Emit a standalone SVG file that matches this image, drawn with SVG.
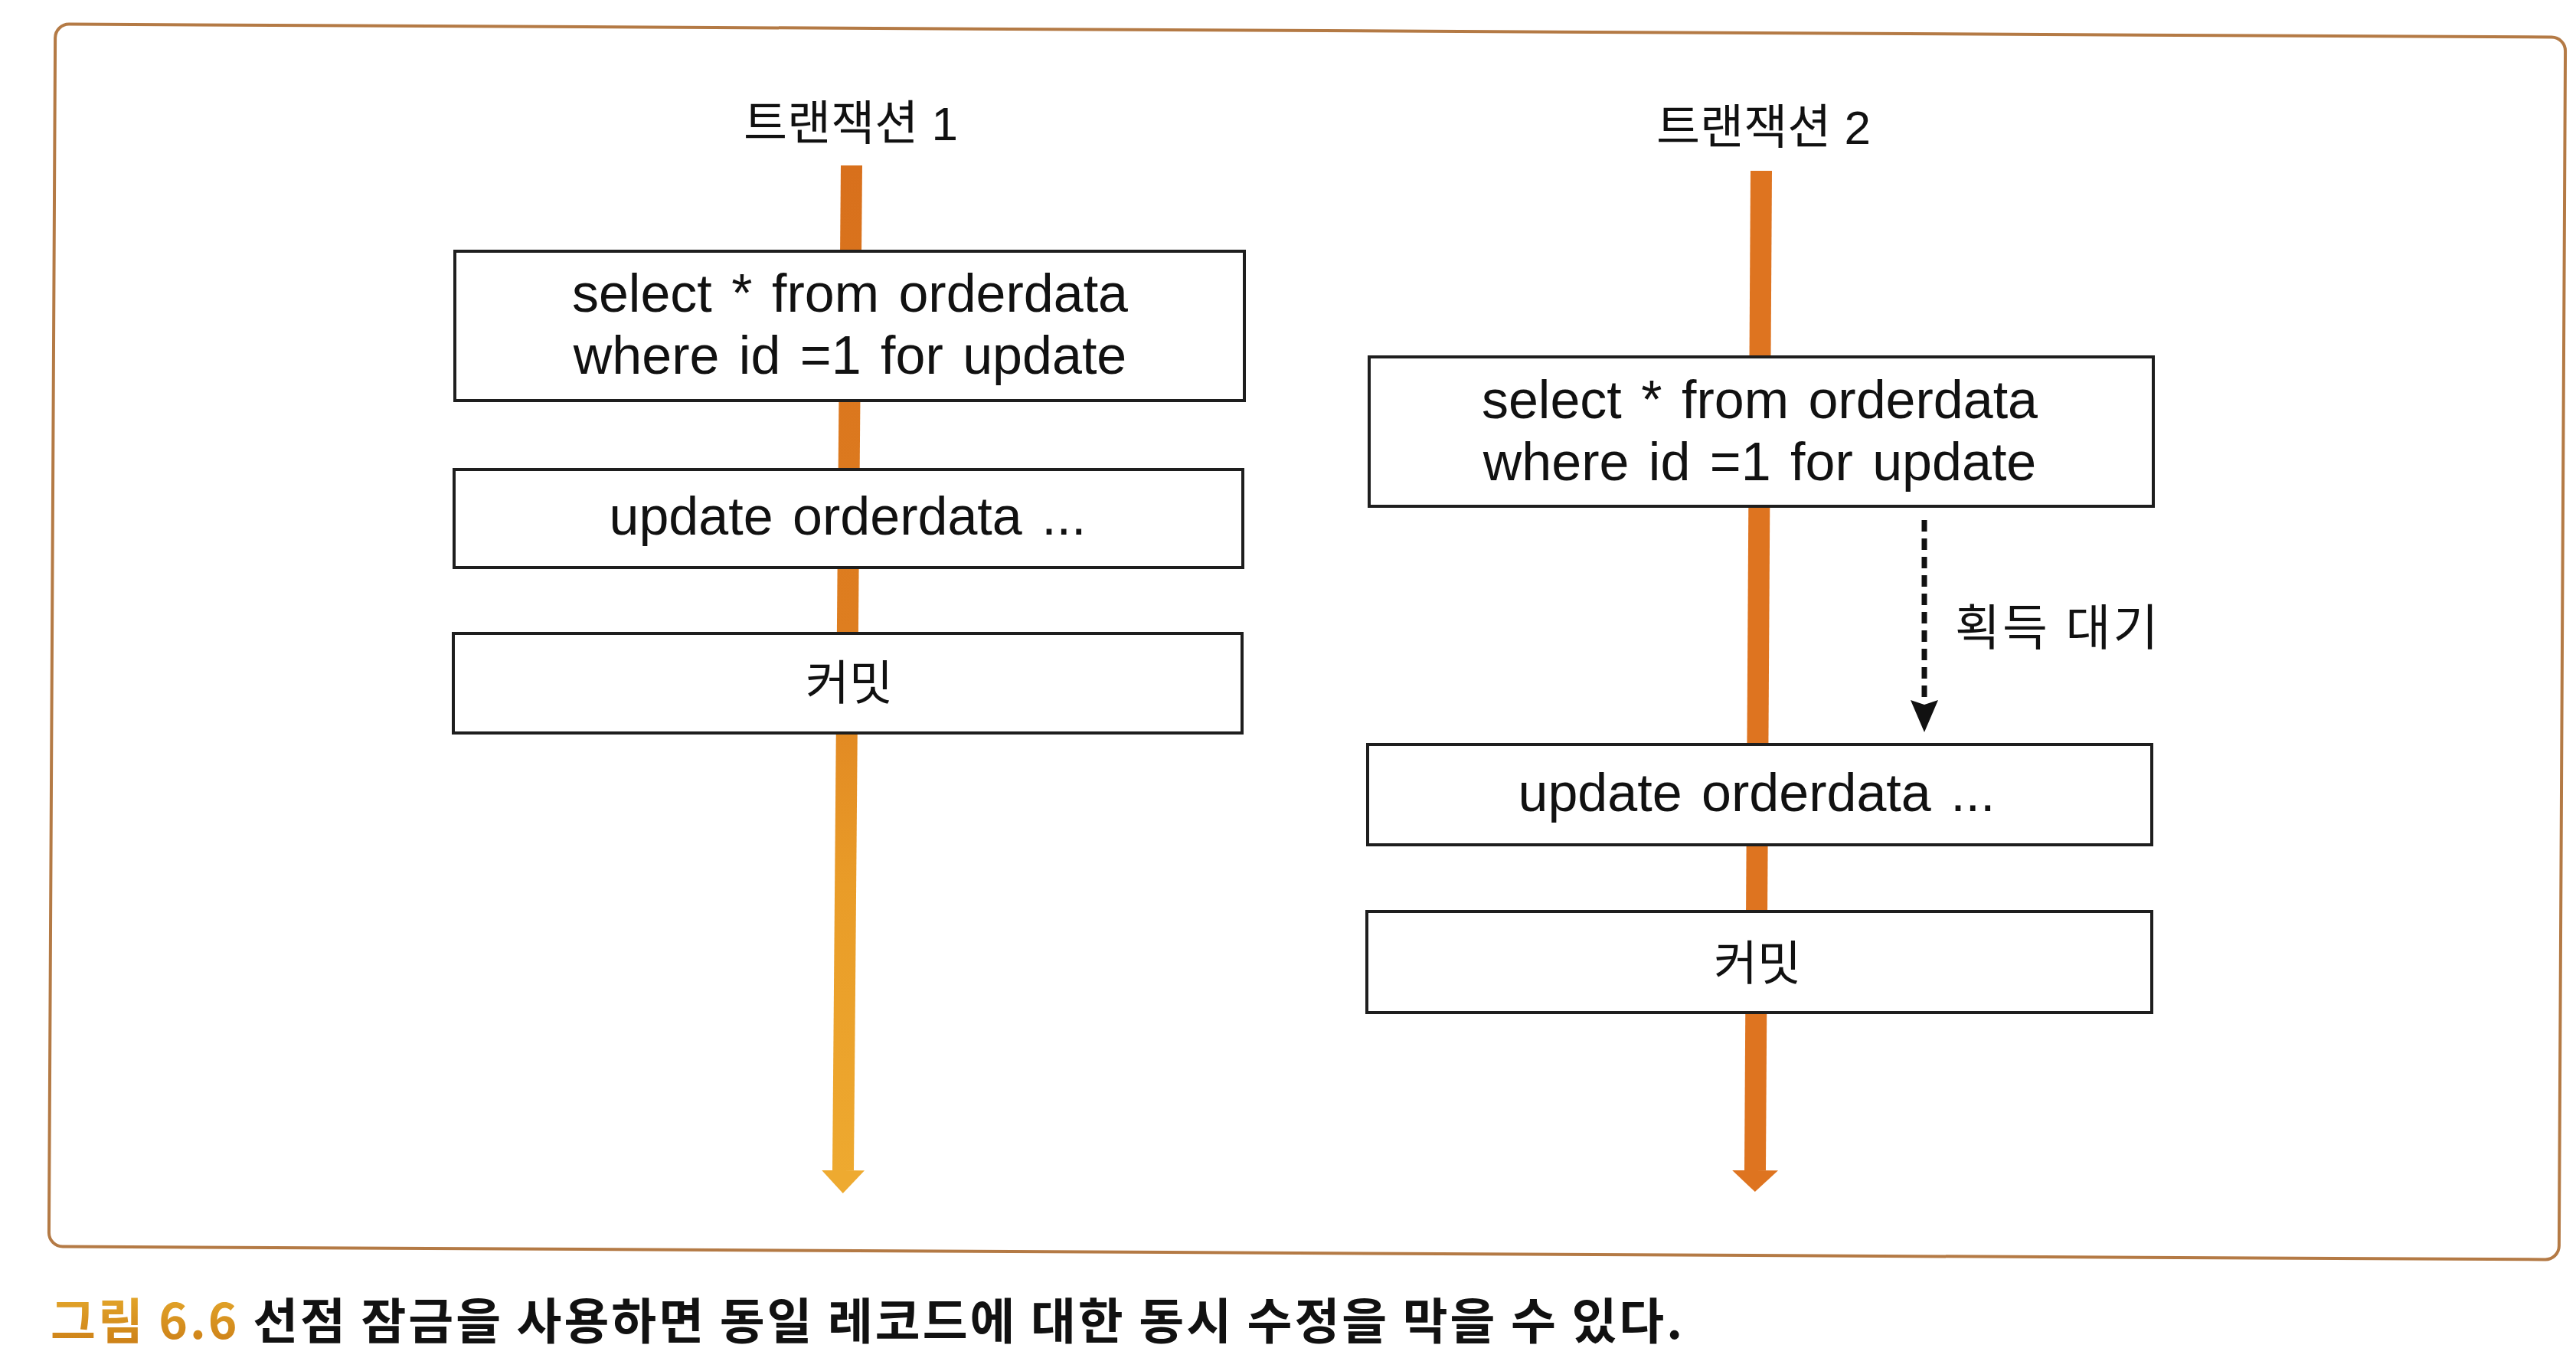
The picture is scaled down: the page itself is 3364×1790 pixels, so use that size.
<svg xmlns="http://www.w3.org/2000/svg" width="3364" height="1790" viewBox="0 0 3364 1790">
  <style>
    .box { fill: #ffffff; stroke: #1e1e1e; stroke-width: 4; }
    .code { font-family: "Liberation Sans", Arial, "Noto Sans CJK KR", sans-serif; font-size: 70px; fill: #111111; text-anchor: middle; word-spacing: 6px; }
    .kr { font-family: "Liberation Sans", "Noto Sans CJK KR", sans-serif; font-size: 62px; fill: #111111; }
    .mid { text-anchor: middle; }
    .life { fill: none; stroke-width: 28; }
    .cap { font-family: "Noto Sans CJK KR", "Liberation Sans", sans-serif; font-size: 64px; font-weight: bold; fill: #111111; letter-spacing: 3px; }
  </style>
  <defs>
    <linearGradient id="g1" gradientUnits="userSpaceOnUse" x1="0" y1="216" x2="0" y2="1557">
      <stop offset="0" stop-color="#d8701c"/>
      <stop offset="0.45" stop-color="#de7e20"/>
      <stop offset="0.7" stop-color="#e99c28"/>
      <stop offset="1" stop-color="#eeaa30"/>
    </linearGradient>
    <linearGradient id="gcap" x1="0" y1="0" x2="0" y2="1">
      <stop offset="0" stop-color="#e9b030"/>
      <stop offset="1" stop-color="#c97a14"/>
    </linearGradient>
    <marker id="ah1" markerUnits="userSpaceOnUse" viewBox="0 -28 30 56" refX="0" refY="0" markerWidth="30" markerHeight="56" orient="auto">
      <path d="M0,-28 L30,0 L0,28 Z" fill="#eeaa30"/>
    </marker>
    <marker id="ah2" markerUnits="userSpaceOnUse" viewBox="0 -30 30 60" refX="0" refY="0" markerWidth="30" markerHeight="60" orient="auto">
      <path d="M0,-30 L28,0 L0,30 Z" fill="#de7420"/>
    </marker>
    <marker id="ahd" markerUnits="userSpaceOnUse" viewBox="0 -18 42 36" refX="0" refY="0" markerWidth="42" markerHeight="36" orient="auto">
      <path d="M0,-18 L42,0 L0,18 L6,0 Z" fill="#111111"/>
    </marker>
  </defs>

  <rect x="0" y="0" width="3364" height="1790" fill="#ffffff"/>

  <g id="frame">
    <rect x="68" y="40" width="3278" height="1596" rx="18" ry="18" fill="none" stroke="#b47a45" stroke-width="4" transform="rotate(0.3 1707 838)"/>
  </g>

  <g id="title1">
    <text class="kr mid" x="1111" y="183">트랜잭션 1</text>
  </g>
  <g id="title2">
    <text class="kr mid" x="2303" y="188">트랜잭션 2</text>
  </g>

  <g id="connectors">
    <path class="life" d="M1112,216 L1101,1528" stroke="url(#g1)" marker-end="url(#ah1)"/>
    <path class="life" d="M2300,223 L2292,1528" stroke="#de7420" marker-end="url(#ah2)"/>
    <path d="M2513,679 L2513,914" fill="none" stroke="#111111" stroke-width="7" stroke-dasharray="15 9" marker-end="url(#ahd)"/>
    <text class="kr" x="2553" y="842" style="font-size:64px; letter-spacing:3px">획득 대기</text>
  </g>

  <g id="t1-select">
    <rect class="box" x="594" y="328" width="1031" height="195"/>
    <text class="code" x="1110" y="407">select * from orderdata</text>
    <text class="code" x="1110" y="488">where id =1 for update</text>
  </g>
  <g id="t1-update">
    <rect class="box" x="593" y="613" width="1030" height="128"/>
    <text class="code" x="1107" y="698">update orderdata ...</text>
  </g>
  <g id="t1-commit">
    <rect class="box" x="592" y="827" width="1030" height="130"/>
    <text class="kr mid" x="1109" y="914">커밋</text>
  </g>

  <g id="t2-select">
    <rect class="box" x="1788" y="466" width="1024" height="195"/>
    <text class="code" x="2298" y="546">select * from orderdata</text>
    <text class="code" x="2298" y="627">where id =1 for update</text>
  </g>
  <g id="t2-update">
    <rect class="box" x="1786" y="972" width="1024" height="131"/>
    <text class="code" x="2294" y="1059">update orderdata ...</text>
  </g>
  <g id="t2-commit">
    <rect class="box" x="1785" y="1190" width="1025" height="132"/>
    <text class="kr mid" x="2295" y="1280">커밋</text>
  </g>

  <g id="caption">
    <text class="cap" x="66" y="1748"><tspan fill="url(#gcap)">그림 6.6</tspan> 선점 잠금을 사용하면 동일 레코드에 대한 동시 수정을 막을 수 있다.</text>
  </g>
</svg>
